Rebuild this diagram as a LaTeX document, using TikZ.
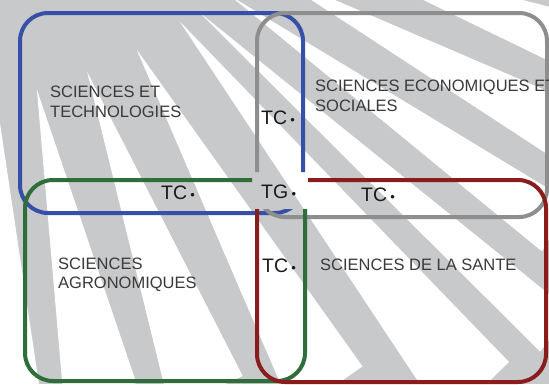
\documentclass[tikz,border=0pt]{standalone}
\usepackage{fontspec}
\setmainfont{Liberation Sans}
\usetikzlibrary{positioning}

\definecolor{raygray}{HTML}{C8C9CB}
\definecolor{stblue}{HTML}{3550A6}
\definecolor{sesgray}{HTML}{8E8E8E}
\definecolor{sagreen}{HTML}{2F6E3B}
\definecolor{ssred}{HTML}{8A1C1C}
\definecolor{labelgray}{HTML}{3A3A3A}

\tikzstyle{domainbox} = [line width=4pt,rounded corners=28pt]
\tikzstyle{field} = [inner sep=0pt,anchor=west,align=left,text=labelgray,font=\fontsize{16.5}{19.5}\selectfont]
\tikzstyle{core} = [inner sep=0pt,anchor=west,text=black!90,font=\fontsize{19.5}{20}\selectfont]

\newcommand{\dotmark}{\,{\fontsize{13}{13}\selectfont •}}

\begin{document}
\begin{tikzpicture}[x=1pt,y=-1pt]

\useasboundingbox (0,0) rectangle (549,384);
\clip (0,0) rectangle (549,384);

% Background rays
\fill [raygray] (0,0) rectangle (549,384);
\begin{scope}[shift={(-30,-120)}]
\foreach \a/\t/\lo/\hi/\r in {83/240/82.2/97/515, 72.3/220/71.7/79.8/530, 58.6/225/61.2/69.3/566,
    45.5/238/51.1/58.8/625, 34/253/41.8/48.8/723, 30/265/35.7/39.6/740, 24/285/28.2/33/682,
    17/310/20.2/25.4/639, 11/350/12.4/17.4/610}
  \fill [white] (\a:\t) -- (\lo:\r) -- (\hi:\r) -- cycle;
\end{scope}

% Four domains, open in the middle
\begin{scope}[even odd rule]
\clip (0,0) -- (549,0) -- (549,384) -- (0,384) -- cycle
  (252,172) -- (252,209) -- (308,209) -- (308,172) -- cycle;
\draw [domainbox,stblue] (20,13) rectangle (303,213);
\draw [domainbox,sesgray] (257,13) rectangle (547,217);
\draw [domainbox,sagreen] (25,180) rectangle (305,381);
\draw [domainbox,ssred] (257,180) rectangle (546,382);
\end{scope}

% Labels
\node [field] (st) at (50,102) {SCIENCES ET\\TECHNOLOGIES};
\node [field] (ses) at (315,96) {SCIENCES ECONOMIQUES ET\\SOCIALES};
\node [field] (sa) at (58,275) {SCIENCES\\AGRONOMIQUES};
\node [field] (ss) at (320,265) {SCIENCES DE LA SANTE};

% Common cores
\node [core] (tctop) at (261,118) {TC\dotmark};
\node [core] (tcleft) at (161,193) {TC\dotmark};
\node [core] (tg) at (261,192) {TG\dotmark};
\node [core] (tcright) at (361,195) {TC\dotmark};
\node [core] (tcbottom) at (262,266) {TC\dotmark};

\end{tikzpicture}
\end{document}
